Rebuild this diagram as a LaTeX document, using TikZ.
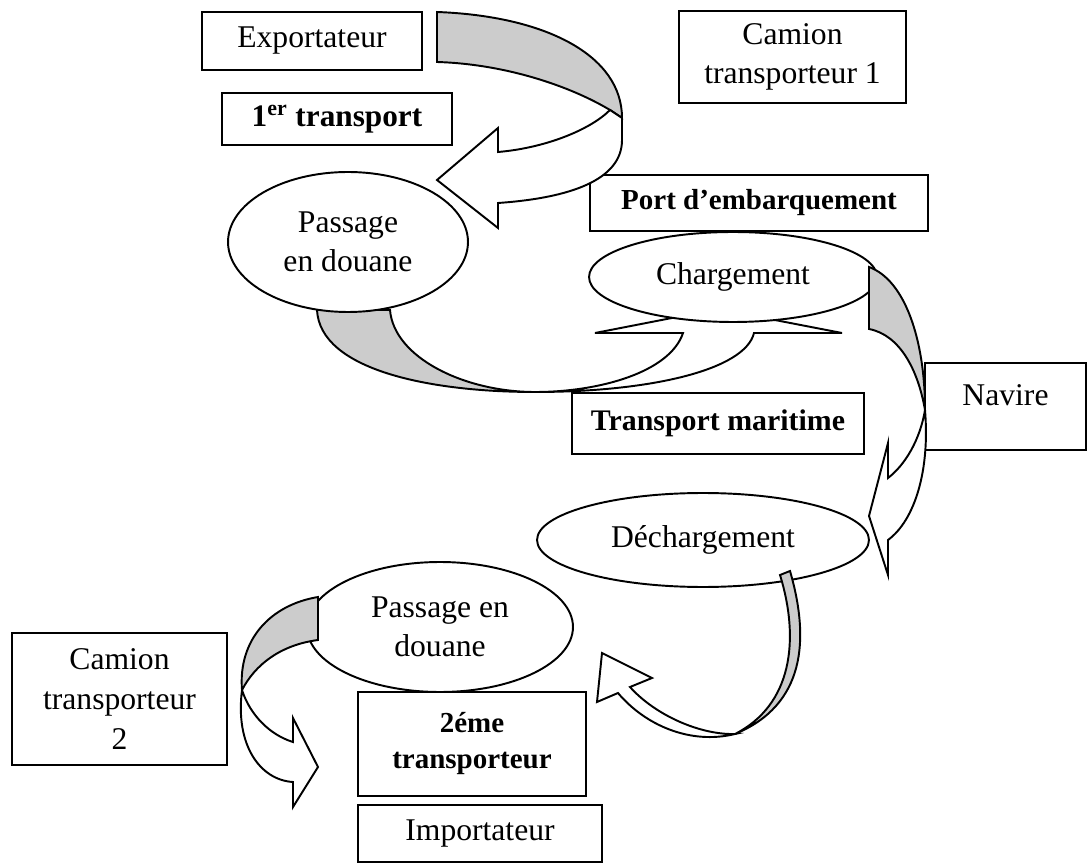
\documentclass[tikz,border=0pt]{standalone}
\usepackage{fontspec}
\setmainfont{Liberation Serif}
\usetikzlibrary{shapes.geometric}
\definecolor{gris}{RGB}{204,204,204}

\tikzset{
  boite/.style={draw, line width=1.1pt, rectangle, inner sep=0pt, align=center,
    font=\fontsize{18}{22.5}\selectfont},
  gras/.style={boite, font=\bfseries\fontsize{16.5}{20.5}\selectfont},
  bulle/.style={draw, line width=1.1pt, ellipse, fill=white, inner sep=0pt, align=center,
    font=\fontsize{18}{22.5}\selectfont},
  dos/.style={draw, line width=1.1pt, fill=gris},
  face/.style={draw, line width=1.1pt, fill=white}
}

\begin{document}
\begin{tikzpicture}[x=0.02cm, y=-0.02cm]
\useasboundingbox (0,0) rectangle (1088,864);

% boites
\node[boite, minimum width=4.4cm, minimum height=1.16cm] (expo) at (312,41) {\raisebox{-2pt}{Exportateur}};
\node[boite, minimum width=4.54cm, minimum height=1.84cm] (camion1) at (792.5,57)
  {\raisebox{-3pt}{Camion}\\\raisebox{-3pt}{transporteur 1}};
\node[gras, minimum width=4.6cm, minimum height=1.04cm, font=\bfseries\fontsize{17.8}{21}\selectfont]
  (transp1) at (337,119) {1\textsuperscript{er} transport};
\node[gras, minimum width=6.76cm, minimum height=1.12cm] (port) at (759,203) {Port d’embarquement};
\node[gras, minimum width=5.84cm, minimum height=1.22cm, font=\bfseries\fontsize{17}{21}\selectfont]
  (maritime) at (718,423.5) {Transport maritime};
\node[boite, minimum width=3.22cm, minimum height=1.74cm,
  label={[font=\fontsize{18}{22.5}\selectfont, yshift=0.22cm]center:Navire}] (navire) at (1005.5,406.5) {};
\node[boite, minimum width=4.3cm, minimum height=2.64cm] (camion2) at (119.5,699) {Camion\\transporteur\\2};
\node[gras, minimum width=4.56cm, minimum height=2.08cm] (transp2) at (472,744) {2éme\\transporteur};
\node[boite, minimum width=4.88cm, minimum height=1.14cm] (import) at (480,833.5) {Importateur};

% 1er transport
\draw[dos] (437,12) .. controls (545,16) and (622,55) .. (622,118) -- (610,110)
  .. controls (570,86) and (505,64) .. (437,62) -- cycle;
\draw[face] (622,118) -- (622,140) .. controls (622,180) and (570,198) .. (498,203)
  -- (498,228) -- (437,180) -- (498,128) -- (498,152)
  .. controls (545,148) and (590,130) .. (610,110) -- cycle;

% transport maritime
\draw[dos] (317,310) -- (390,310) .. controls (394,358) and (465,392) .. (535,392)
  .. controls (430,392) and (320,370) .. (317,310) -- cycle;
\draw[face] (535,392) .. controls (650,392) and (745,370) .. (754,333) -- (842,333)
  -- (718,309) -- (595,333) -- (683,333) .. controls (670,372) and (600,392) .. (535,392) -- cycle;

\node[bulle, minimum width=4.8cm, minimum height=2.8cm] (douane1) at (348,242) {Passage\\en douane};
\node[bulle, minimum width=5.76cm, minimum height=1.8cm] (charge) at (733,277) {Chargement};

% navire
\draw[dos] (869,267) .. controls (905,280) and (925,340) .. (925,410)
  .. controls (918,370) and (900,335) .. (869,329) -- cycle;
\draw[face] (925,410) .. controls (930,470) and (915,520) .. (888,540) -- (888,575)
  -- (869,516) -- (888,443) -- (888,478) .. controls (905,465) and (920,440) .. (925,410) -- cycle;

\node[bulle, minimum width=6.64cm, minimum height=1.88cm] (decharge) at (703,540) {Déchargement};
\node[bulle, minimum width=5.32cm, minimum height=2.6cm] (douane2) at (440,627) {Passage en\\douane};

% vers le passage en douane
\draw[dos] (780,575) -- (790,571) .. controls (810,640) and (805,705) .. (735,734)
  .. controls (792,705) and (800,640) .. (780,575) -- cycle;
\draw[face] (735,734) .. controls (690,745) and (645,725) .. (618,693) -- (597,702)
  -- (602,653) -- (652,678) -- (630,687) .. controls (655,715) and (700,735) .. (735,734) -- cycle;

% 2eme transporteur
\draw[dos] (318,597) .. controls (270,605) and (238,640) .. (242,690)
  .. controls (255,665) and (280,645) .. (318,640) -- cycle;
\draw[face] (242,690) .. controls (235,745) and (260,780) .. (293,782) -- (293,807)
  -- (318,767) -- (293,718) -- (293,742) .. controls (270,735) and (250,715) .. (242,690) -- cycle;
\end{tikzpicture}
\end{document}
